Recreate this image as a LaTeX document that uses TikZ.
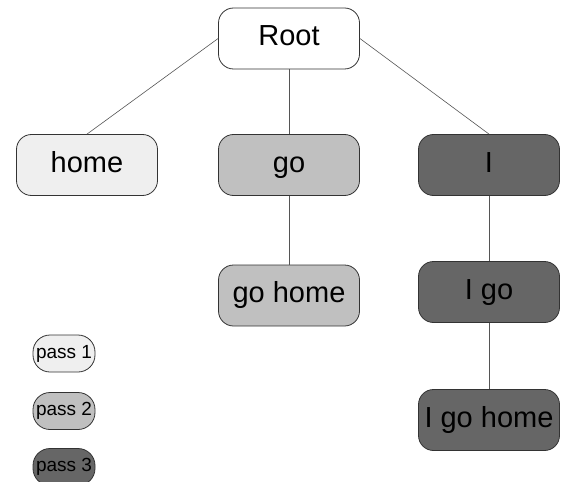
\documentclass[tikz,border=0pt]{standalone}
\usepackage{fontspec}
\setmainfont{Liberation Sans}
\definecolor{passone}{HTML}{EFEFEF}
\definecolor{passtwo}{HTML}{C0C0C0}
\definecolor{passthree}{HTML}{666666}
\definecolor{edgegray}{HTML}{555555}
\begin{document}
\begin{tikzpicture}[x=1pt,y=-1pt,
  box/.style={draw=black!80, line width=0.8pt, rounded corners=15pt, minimum width=141pt, minimum height=61pt, inner sep=0pt, text height=20pt, text depth=6pt, font=\fontsize{29}{30}\selectfont},
  legend/.style={draw=black!80, line width=0.8pt, rounded corners=17pt, minimum width=62pt, minimum height=37pt, inner sep=0pt, text height=13pt, text depth=4pt, font=\fontsize{19}{20}\selectfont},
  link/.style={draw=edgegray, line width=0.6pt}]
\useasboundingbox (0,0) rectangle (561,481);
\node[box, fill=white] (root) at (289,38.5) {Root};
\node[box, fill=passone] (home) at (87,165) {home};
\node[box, fill=passtwo] (go) at (289,165) {go};
\node[box, fill=passthree] (I) at (489,165) {I};
\node[box, fill=passtwo] (gohome) at (289,295.5) {go home};
\node[box, fill=passthree] (Igo) at (489,292) {I go};
\node[box, fill=passthree] (Igohome) at (489,420) {I go home};
\draw[link] (root.west) -- (home.north);
\draw[link] (root.south) -- (go.north);
\draw[link] (root.east) -- (I.north);
\draw[link] (go.south) -- (gohome.north);
\draw[link] (I.south) -- (Igo.north);
\draw[link] (Igo.south) -- (Igohome.north);
\node[legend, fill=passone] (p1) at (64,353.5) {pass 1};
\node[legend, fill=passtwo] (p2) at (64,411) {pass 2};
\node[legend, fill=passthree] (p3) at (64,467) {pass 3};
\end{tikzpicture}
\end{document}
